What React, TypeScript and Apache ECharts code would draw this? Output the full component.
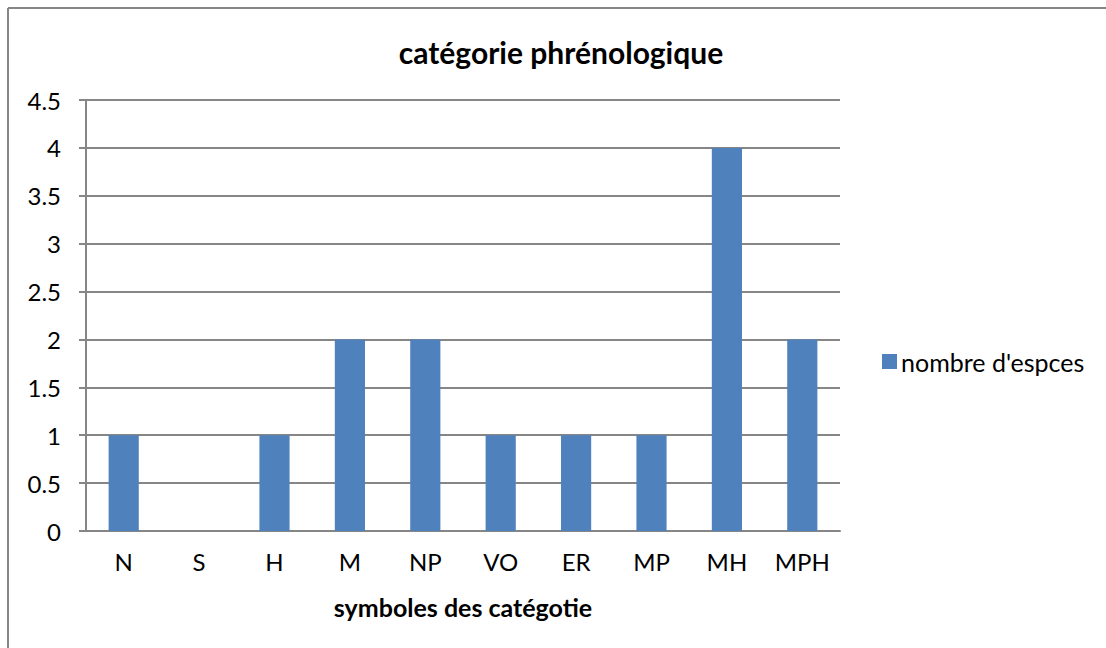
import React, { useEffect, useRef } from "react";
import * as echarts from "echarts";

const categories = ["N", "S", "H", "M", "NP", "VO", "ER", "MP", "MH", "MPH"];
const speciesCounts = [1, 0, 1, 2, 2, 1, 1, 1, 4, 2];
const seriesName = "nombre d'espces";
const chartTitle = "catégorie phrénologique";
const xAxisTitle = "symboles des catégotie";

const FONT = "Lato, 'Open Sans', sans-serif";
const GRAY = "#868686";

export default function App() {
  const ref = useRef<HTMLDivElement>(null);
  useEffect(() => {
    if (!ref.current) return;
    const chart = echarts.init(ref.current, undefined, { renderer: "svg" });
    chart.setOption({
      animation: false,
      backgroundColor: "#ffffff",
      textStyle: { fontFamily: FONT },
      title: {
        text: chartTitle,
        left: 556,
        textAlign: "center",
        top: 32,
        textStyle: { fontFamily: FONT, fontSize: 30, fontWeight: "bold", color: "#000" },
      },
      legend: {
        left: 877,
        top: 344,
        itemWidth: 15,
        itemHeight: 15,
        itemGap: 6,
        icon: "rect",
        textStyle: { fontFamily: FONT, fontSize: 25, color: "#000", padding: [0, 0, 0, -1] },
        data: [seriesName],
      },
      grid: { left: 86, right: 266, top: 100, bottom: 117, containLabel: false },
      xAxis: {
        type: "category",
        data: categories,
        name: xAxisTitle,
        nameLocation: "middle",
        nameGap: 63,
        nameTextStyle: { fontFamily: FONT, fontSize: 25, fontWeight: "bold", color: "#000" },
        axisLine: { show: true, lineStyle: { color: GRAY, width: 2 } },
        axisTick: { show: false },
        axisLabel: { fontFamily: FONT, fontSize: 24, color: "#000", margin: 18 },
        splitLine: { show: false },
      },
      yAxis: {
        type: "value",
        min: 0,
        max: 4.5,
        interval: 0.5,
        axisLine: { show: true, lineStyle: { color: GRAY, width: 2 } },
        axisTick: { show: true, length: 7, lineStyle: { color: GRAY, width: 2 } },
        axisLabel: { fontFamily: FONT, fontSize: 24, color: "#000", margin: 25 },
        splitLine: { show: true, lineStyle: { color: GRAY, width: 2 } },
      },
      graphic: [
        { type: "line", shape: { x1: 8, y1: 8, x2: 1106, y2: 8 }, style: { stroke: GRAY, lineWidth: 2 } },
        { type: "line", shape: { x1: 8, y1: 8, x2: 8, y2: 648 }, style: { stroke: GRAY, lineWidth: 2 } },
      ],
      series: [
        {
          name: seriesName,
          type: "bar",
          data: speciesCounts,
          barCategoryGap: "60%",
          itemStyle: { color: "#4F81BD" },
        },
      ],
    });
    return () => chart.dispose();
  }, []);
  return (
    <div
      ref={ref}
      style={{ position: "fixed", left: 0, top: 0, width: 1106, height: 648 }}
    />
  );
}
